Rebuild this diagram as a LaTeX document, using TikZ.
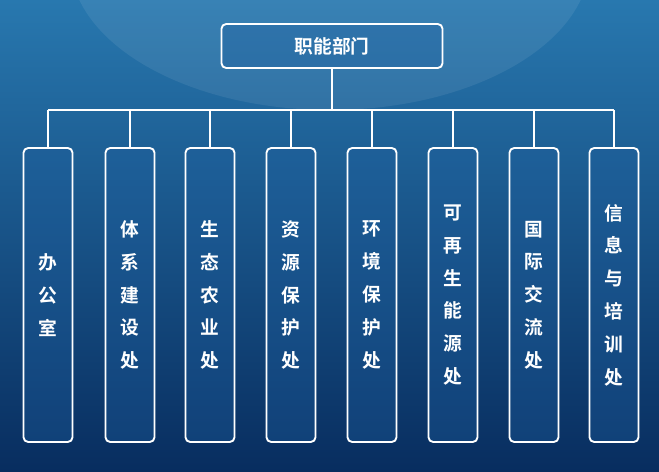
\documentclass[tikz,border=0pt]{standalone}
\usepackage{fontspec}
\newfontfamily\cjk{Noto Sans CJK SC}[BoldFont={Noto Sans CJK SC Bold}]
\definecolor{bgtop}{RGB}{40,120,175}
\definecolor{bgbot}{RGB}{8,45,95}
\definecolor{boxfill}{RGB}{30,95,160}
\begin{document}
\begin{tikzpicture}[x=0.03cm,y=-0.03cm,
  box/.style={draw=white,line width=1.6pt,rounded corners=4pt,fill=boxfill,fill opacity=0.35,text opacity=1,text=white,font=\cjk\bfseries\fontsize{16pt}{28pt}\selectfont,align=center},
  ln/.style={draw=white,line width=1.6pt}]
\useasboundingbox (0,0) rectangle (659,472);
\shade[top color=bgtop,bottom color=bgbot] (0,0) rectangle (659,472);
\begin{scope}
\clip (0,0) rectangle (659,472);
\fill[white,opacity=0.08] (330,-40) ellipse (260 and 150);
\end{scope}
\node[box,minimum width=221*0.03cm,minimum height=44*0.03cm] (top) at (332,46) {职能部门};
\coordinate (j) at (332,110);
\draw[ln] (top.south) -- (j);
\foreach \n/\x/\t in {a/48/{办\\公\\室},b/130/{体\\系\\建\\设\\处},c/210/{生\\态\\农\\业\\处},d/291/{资\\源\\保\\护\\处},e/372/{环\\境\\保\\护\\处},f/453/{可\\再\\生\\能\\源\\处},g/534/{国\\际\\交\\流\\处},h/614/{信\\息\\与\\培\\训\\处}}{
  \node[box,minimum width=49*0.03cm,minimum height=294*0.03cm] (\n) at (\x,295) {\t};
  \coordinate (t\n) at (\x,110);
  \draw[ln] (t\n) -- (\n.north);
}
\draw[ln] (ta) -- (th);
\end{tikzpicture}
\end{document}
